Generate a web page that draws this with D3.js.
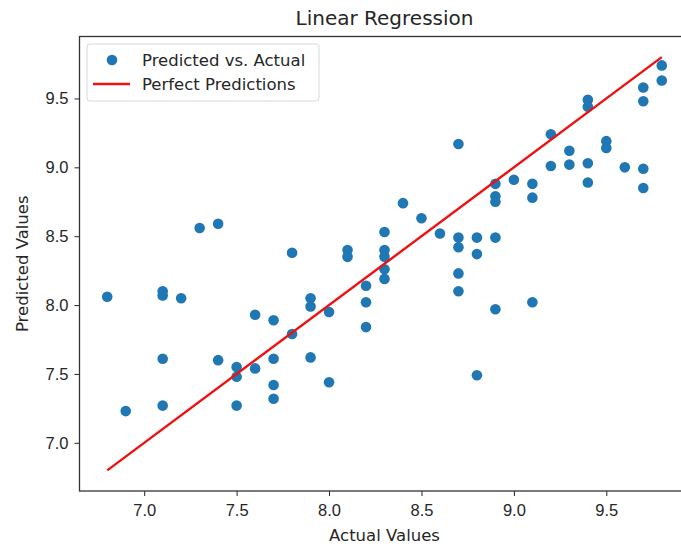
<!DOCTYPE html>
<html>
<head>
<meta charset="UTF-8">
<title>Linear Regression</title>
<script src="https://d3js.org/d3.v7.min.js"></script>
<style>
    body { margin: 0; background: #fff; }
    svg { font-family: "DejaVu Sans", sans-serif; }
    .tick text { font-size: 16.5px; fill: #262626; }
    .tick line { stroke: #262626; }
</style>
</head>
<body>
<svg id="chart"></svg>
<script>
// actual values (x) and the model's predictions (y)
const actual = [
    6.8, 6.9, 7.1, 7.1, 7.1, 7.1, 7.2, 7.3, 7.4, 7.4,
    7.5, 7.5, 7.5, 7.6, 7.6, 7.7, 7.7, 7.7, 7.7, 7.8,
    7.8, 7.9, 7.9, 7.9, 8.0, 8.0, 8.1, 8.1, 8.2, 8.2,
    8.2, 8.3, 8.3, 8.3, 8.3, 8.3, 8.4, 8.5, 8.6, 8.7,
    8.7, 8.7, 8.7, 8.7, 8.8, 8.8, 8.8, 8.9, 8.9, 8.9,
    8.9, 8.9, 9.0, 9.1, 9.1, 9.1, 9.2, 9.2, 9.3, 9.3,
    9.4, 9.4, 9.4, 9.4, 9.5, 9.5, 9.6, 9.7, 9.7, 9.7,
    9.7, 9.8, 9.8
];
const predicted = [
    8.06, 7.23, 8.10, 8.07, 7.61, 7.27, 8.05, 8.56, 8.59, 7.60,
    7.55, 7.48, 7.27, 7.93, 7.54, 7.89, 7.61, 7.42, 7.32, 8.38,
    7.79, 8.05, 7.99, 7.62, 7.95, 7.44, 8.40, 8.35, 8.14, 8.02,
    7.84, 8.53, 8.40, 8.35, 8.26, 8.19, 8.74, 8.63, 8.52, 9.17,
    8.49, 8.42, 8.23, 8.10, 8.49, 8.37, 7.49, 8.88, 8.79, 8.75,
    8.49, 7.97, 8.91, 8.88, 8.78, 8.02, 9.24, 9.01, 9.12, 9.02,
    9.49, 9.44, 9.03, 8.89, 9.19, 9.14, 9.00, 9.58, 9.48, 8.99,
    8.85, 9.74, 9.63
];
// the "perfect predictions" line runs from min to max of the actual values
const perfectLine = [6.8, 9.8];
const xTicks = [7.0, 7.5, 8.0, 8.5, 9.0, 9.5];
const yTicks = [7.0, 7.5, 8.0, 8.5, 9.0, 9.5];

const points = actual.map((a, i) => ({ a: a, p: predicted[i] }));

const W = 681, H = 549;
const margin = { top: 36.5, left: 79.5 };
const plotW = 610, plotH = 454.5;

const svg = d3.select('#chart').attr('width', W).attr('height', H);

const x = d3.scaleLinear().domain([6.65, 9.95]).range([margin.left, margin.left + plotW]);
const y = d3.scaleLinear().domain([6.65, 9.95]).range([margin.top + plotH, margin.top]);

// points
svg.append('g')
    .selectAll('circle')
    .data(points)
    .enter().append('circle')
    .attr('cx', d => x(d.a))
    .attr('cy', d => y(d.p))
    .attr('r', 5.3)
    .attr('fill', '#1f77b4');

// perfect predictions line
svg.append('line')
    .attr('x1', x(perfectLine[0]))
    .attr('y1', y(perfectLine[0]))
    .attr('x2', x(perfectLine[1]))
    .attr('y2', y(perfectLine[1]))
    .attr('stroke', '#ee1111')
    .attr('stroke-width', 2.4);

// axes
svg.append('g')
    .attr('transform', `translate(0,${margin.top + plotH})`)
    .call(d3.axisBottom(x).tickValues(xTicks).tickFormat(d3.format('.1f')).tickSize(5).tickPadding(8))
    .call(g => g.select('.domain').remove());

svg.append('g')
    .attr('transform', `translate(${margin.left},0)`)
    .call(d3.axisLeft(y).tickValues(yTicks).tickFormat(d3.format('.1f')).tickSize(5).tickPadding(6))
    .call(g => g.select('.domain').remove());

// frame (right spine falls just outside the picture)
svg.append('rect')
    .attr('x', margin.left)
    .attr('y', margin.top)
    .attr('width', plotW)
    .attr('height', plotH)
    .attr('fill', 'none')
    .attr('stroke', '#333')
    .attr('stroke-width', 1.3);

// labels
svg.append('text')
    .attr('x', margin.left + plotW / 2)
    .attr('y', 25)
    .attr('text-anchor', 'middle')
    .attr('font-size', 20)
    .attr('fill', '#262626')
    .text('Linear Regression');

svg.append('text')
    .attr('x', margin.left + plotW / 2)
    .attr('y', 541)
    .attr('text-anchor', 'middle')
    .attr('font-size', 16.5)
    .attr('fill', '#262626')
    .text('Actual Values');

svg.append('text')
    .attr('transform', `translate(28,${margin.top + plotH / 2}) rotate(-90)`)
    .attr('text-anchor', 'middle')
    .attr('font-size', 16.5)
    .attr('fill', '#262626')
    .text('Predicted Values');

// legend
const legend = svg.append('g').attr('transform', 'translate(87,44)');
legend.append('rect')
    .attr('width', 232)
    .attr('height', 57)
    .attr('rx', 3)
    .attr('fill', '#fff')
    .attr('fill-opacity', 0.8)
    .attr('stroke', '#d8d8d8');
legend.append('circle')
    .attr('cx', 25).attr('cy', 16).attr('r', 5.3)
    .attr('fill', '#1f77b4');
legend.append('line')
    .attr('x1', 6).attr('x2', 43).attr('y1', 40).attr('y2', 40)
    .attr('stroke', '#ee1111').attr('stroke-width', 2.4);
legend.append('text')
    .attr('x', 55).attr('y', 22)
    .attr('font-size', 16.5).attr('fill', '#262626')
    .text('Predicted vs. Actual');
legend.append('text')
    .attr('x', 55).attr('y', 46)
    .attr('font-size', 16.5).attr('fill', '#262626')
    .text('Perfect Predictions');
</script>
</body>
</html>
